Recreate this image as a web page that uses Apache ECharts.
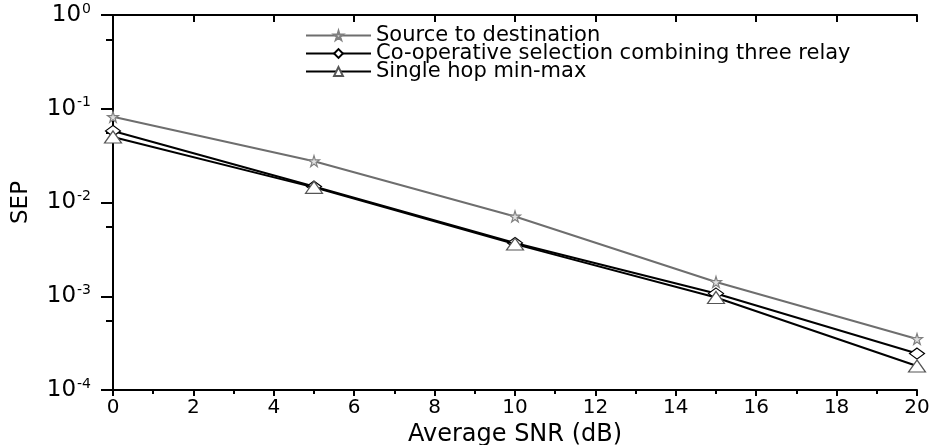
<!DOCTYPE html>
<html>
<head>
	<meta charset="utf-8" />
	<title>SEP vs SNR</title>
	<script src="https://cdn.jsdelivr.net/npm/echarts@6/dist/echarts.min.js"></script>
</head>
<body style="margin:0;">
	<div id="main" style="width: 932px;height: 445px;"></div>
	<script type="text/javascript">
		// data
		var snr = [0, 5, 10, 15, 20];
		var sourceDest = [0.082, 0.0276, 0.0071, 0.00142, 0.00035];
		var coopThree = [0.058, 0.0148, 0.0037, 0.00107, 0.000245];
		var singleHop = [0.050, 0.0145, 0.0036, 0.00097, 0.00018];
		var seriesNames = ['Source to destination', 'Co-operative selection combining three relay', 'Single hop min-max'];

		var star = 'path://M50,0 L61,35 L98,35 L68,57 L79,91 L50,70 L21,91 L32,57 L2,35 L39,35 Z';

		function pairs(ys) {
			return snr.map(function (x, i) { return [x, ys[i]]; });
		}

		var myChart = echarts.init(document.getElementById("main"));

		var font = 'DejaVu Sans, sans-serif';
		var black = '#000';

		var option = {
			animation: false,
			backgroundColor: '#fff',
			grid: { left: 113, right: 15, top: 15, bottom: 55, containLabel: false, outerBoundsMode: 'none' },
			legend: {
				orient: 'vertical',
				left: 300,
				top: 20,
				itemWidth: 65,
				itemHeight: 11,
				itemGap: -3,
				textStyle: { fontFamily: font, fontSize: 21, lineHeight: 16, color: black },
				data: seriesNames
			},
			xAxis: [
				{
					type: 'value', min: 0, max: 20, interval: 2,
					name: 'Average SNR (dB)', nameLocation: 'middle', nameGap: 30,
					nameTextStyle: { fontFamily: font, fontSize: 24, color: black },
					axisLine: { lineStyle: { color: black, width: 2 } },
					axisTick: { length: 6, lineStyle: { color: black, width: 2 } },
					minorTick: { show: true, splitNumber: 2, length: 4, lineStyle: { color: black, width: 2 } },
					axisLabel: { fontFamily: font, fontSize: 20, color: black, margin: 8 },
					splitLine: { show: false }
				},
				{
					type: 'value', min: 0, max: 20, interval: 2, position: 'top',
					axisLine: { lineStyle: { color: black, width: 2 } },
					axisTick: { inside: true, length: 7, lineStyle: { color: black, width: 2 } },
					axisLabel: { show: false },
					splitLine: { show: false }
				}
			],
			yAxis: [
				{
					type: 'log', logBase: 10, min: 1e-4, max: 1,
					name: 'SEP', nameLocation: 'middle', nameGap: 80,
					nameTextStyle: { fontFamily: font, fontSize: 23, color: black },
					axisLine: { lineStyle: { color: black, width: 2 } },
					axisTick: { length: 12, lineStyle: { color: black, width: 2 } },
					minorTick: { show: true, splitNumber: 2, length: 6, lineStyle: { color: black, width: 2 } },
					axisLabel: {
						margin: 22,
						formatter: function (v) {
							var p = Math.round(Math.log10(v));
							return '{b|10}{s|' + p + '}';
						},
						rich: {
							b: { fontFamily: font, fontSize: 23, color: black },
							s: { fontFamily: font, fontSize: 14, color: black, padding: [0, 0, 12, 1] }
						}
					},
					splitLine: { show: false }
				},
				{
					type: 'log', logBase: 10, min: 1e-4, max: 1, position: 'right',
					axisLine: { show: true, lineStyle: { color: black, width: 2 } },
					axisTick: { show: true, inside: true, length: 7, lineStyle: { color: black, width: 2 } },
					minorTick: { show: true, splitNumber: 2, length: 7, lineStyle: { color: black, width: 2 } },
					axisLabel: { show: false },
					splitLine: { show: false }
				}
			],
			series: [
				{
					name: seriesNames[0], type: 'line', data: pairs(sourceDest),
					symbol: star, symbolSize: 11,
					lineStyle: { color: '#6e6e6e', width: 2 },
					itemStyle: { color: '#e0e0e0', borderColor: '#808080', borderWidth: 1.2 },
					z: 3
				},
				{
					name: seriesNames[1], type: 'line', data: pairs(coopThree),
					symbol: 'diamond', symbolSize: [15, 11],
					lineStyle: { color: black, width: 2 },
					itemStyle: { color: '#fff', borderColor: black, borderWidth: 1.2 },
					z: 4
				},
				{
					name: seriesNames[2], type: 'line', data: pairs(singleHop),
					symbol: 'triangle', symbolSize: [17, 12],
					lineStyle: { color: black, width: 2 },
					itemStyle: { color: '#fff', borderColor: '#555', borderWidth: 1.2 },
					z: 5
				}
			]
		};

		myChart.setOption(option);
	</script>
</body>
</html>
